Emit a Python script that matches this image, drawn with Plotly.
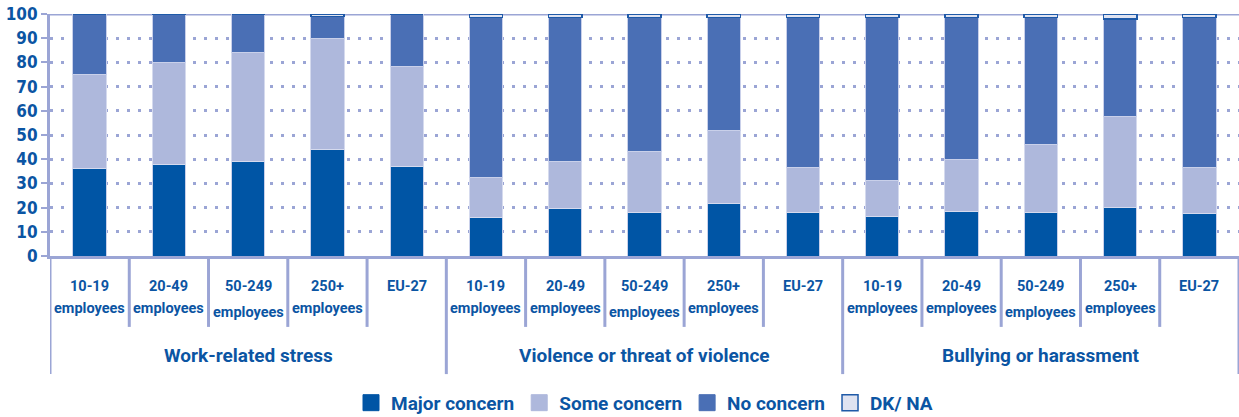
import plotly.graph_objects as go

# Enterprise-size breakdown, repeated for each of the three psychosocial risks
sizes = ["10-19 employees", "20-49 employees", "50-249 employees", "250+ employees", "EU-27"]
risks = ["Work-related stress", "Violence or threat of violence", "Bullying or harassment"]

# Share of establishments (%), in order: 5 sizes for each risk
major_concern = [36, 38, 39, 44, 37,
                 16, 19.5, 18, 21.5, 18,
                 16.5, 18.5, 18, 20, 17.5]
some_concern = [39, 42, 45, 46, 41.5,
                16.5, 19.5, 25, 30.5, 18.5,
                14.5, 21.5, 28, 37.5, 19]
no_concern = [25, 20, 16, 9, 21.5,
              66, 59.5, 55.5, 46.5, 62,
              67.5, 58.5, 52.5, 40.5, 62]
dk_na = [0, 0, 0, 1, 0,
         1.5, 1.5, 1.5, 1.5, 1.5,
         1.5, 1.5, 1.5, 2, 1.5]

y_ticks = [0, 10, 20, 30, 40, 50, 60, 70, 80, 90, 100]

BLUE_TEXT = "#0b55a3"
AXIS = "#9ba5d5"
TEXT_FONT = "Roboto, Liberation Sans Narrow, sans-serif"
NUM_FONT = "DejaVu Sans Condensed, DejaVu Sans, sans-serif"

series = [
    ("Major concern", major_concern, "#0055a5", "#c9d0ea", 1),
    ("Some concern", some_concern, "#aeb8dc", "#d5daee", 1),
    ("No concern", no_concern, "#4a6fb5", "#c9d0ea", 1),
    ("DK/ NA", dk_na, "#dfe3f1", "#1f5aa8", 1.5),
]

labels = [f"{r} | {s}" for r in risks for s in sizes]
x_pos = list(range(len(labels)))

fig = go.Figure()
for name, vals, fill, edge, lw in series:
    fig.add_trace(go.Bar(
        x=x_pos, y=vals, name=name, showlegend=False,
        marker=dict(color=fill, line=dict(color=edge, width=lw)),
        hovertext=labels,
    ))
    # square legend keys
    fig.add_trace(go.Scatter(
        x=[None], y=[None], mode="markers", name=name,
        marker=dict(symbol="square", size=16, color=fill,
                    line=dict(color=edge if name == "DK/ NA" else fill, width=lw)),
    ))

# top frame line at 100 %
fig.add_shape(type="line", xref="paper", yref="y", x0=0, x1=1, y0=100, y1=100,
              line=dict(color=AXIS, width=3), layer="below")

# category separators below the axis
n = len(labels)
for i in range(n + 1):
    outer = i % len(sizes) == 0
    fig.add_shape(type="line", xref="x", yref="paper",
                  x0=i - 0.5, x1=i - 0.5, y0=0, y1=-0.488 if outer else -0.293,
                  line=dict(color=AXIS, width=3))

# size labels (two lines each)
for i, lab in enumerate(labels):
    size = lab.split(" | ")[1]
    parts = size.split(" ", 1)
    fig.add_annotation(x=i, y=0, xref="x", yref="paper", yanchor="middle",
                       yshift=-30, text=parts[0], showarrow=False,
                       font=dict(family=TEXT_FONT, size=14.5, color=BLUE_TEXT, weight="bold"))
    if len(parts) > 1:
        fig.add_annotation(x=i, y=0, xref="x", yref="paper", yanchor="middle",
                           yshift=-56 if parts[0] == "50-249" else -52,
                           text=parts[1], showarrow=False,
                           font=dict(family=TEXT_FONT, size=14.5, color=BLUE_TEXT, weight="bold"))

# risk labels
for g, risk in enumerate(risks):
    centre = g * len(sizes) + (len(sizes) - 1) / 2
    fig.add_annotation(x=centre, y=0, xref="x", yref="paper", yanchor="middle",
                       yshift=-99, text=risk, showarrow=False,
                       font=dict(family=TEXT_FONT, size=19, color=BLUE_TEXT, weight="bold"))

fig.update_layout(
    width=1239, height=417,
    margin=dict(l=50, r=0, t=14, b=161, autoexpand=False),
    paper_bgcolor="white", plot_bgcolor="white",
    barmode="stack", bargap=0.58,
    showlegend=True,
    legend=dict(orientation="h", x=0.5, xanchor="center",
                yref="container", y=0.034, yanchor="middle",
                traceorder="normal",
                font=dict(family=TEXT_FONT, size=19, color=BLUE_TEXT, weight="bold"),
                itemsizing="trace", itemwidth=30, bgcolor="rgba(0,0,0,0)"),
    xaxis=dict(range=[-0.5, n - 0.5], showticklabels=False, showgrid=False,
               zeroline=False, showline=True, linecolor=AXIS, linewidth=3,
               ticks=""),
    yaxis=dict(range=[0, 100], tickvals=y_ticks, showgrid=True, gridcolor=AXIS,
               gridwidth=3, griddash="3px,8px", zeroline=False,
               showline=True, linecolor=AXIS, linewidth=3,
               ticks="outside", ticklen=6, tickwidth=2, tickcolor=AXIS,
               tickfont=dict(family=NUM_FONT, size=17, color=BLUE_TEXT, weight="bold")),
)

fig.write_html("out.html")
